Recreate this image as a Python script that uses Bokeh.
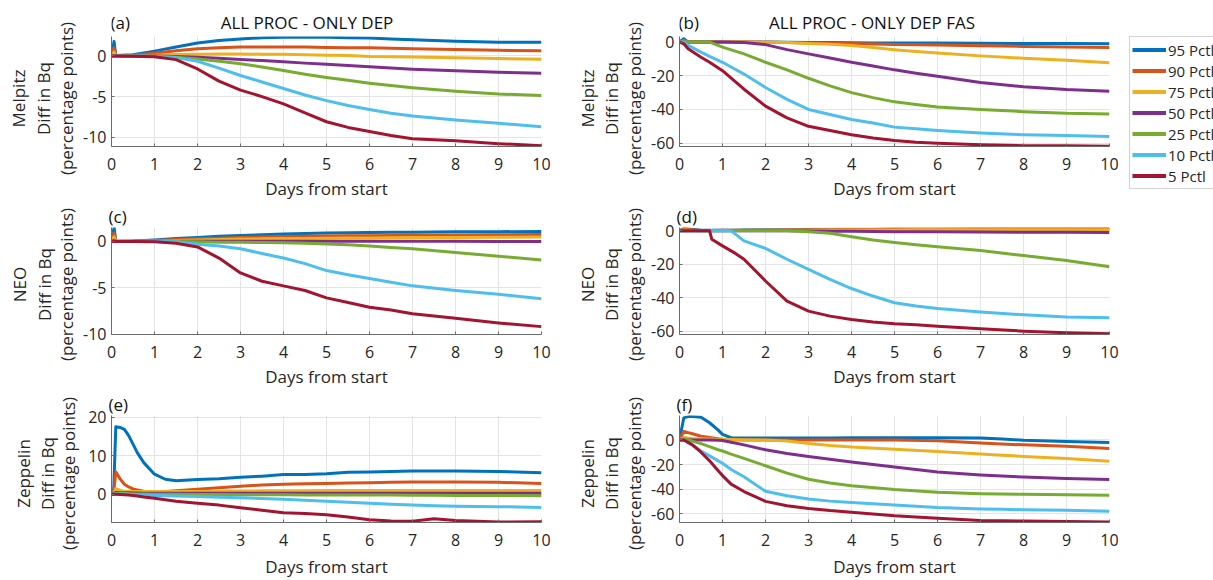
from math import pi
from bokeh.plotting import figure
from bokeh.layouts import row, column
from bokeh.models import Label, Legend, LegendItem, Range1d
from bokeh.embed import file_html
from bokeh.resources import INLINE

# ---------------- data ----------------
SERIES = ["95 Pctl", "90 Pctl", "75 Pctl", "50 Pctl", "25 Pctl", "10 Pctl", "5 Pctl"]
COLORS = ["#0072BD", "#D95319", "#EDB120", "#7E2F8E", "#77AC30", "#4DBEEE", "#A2142F"]
X_TICKS = [0, 1, 2, 3, 4, 5, 6, 7, 8, 9, 10]

# (a) Melpitz, ALL PROC - ONLY DEP
DAYS_A = [0, 0.06, 0.1, 0.5, 1, 1.5, 2, 2.5, 3, 3.5, 4, 4.5, 5, 5.5, 6, 6.5, 7, 8, 9, 10]
A_P95 = [0, 1.8, 0.05, 0.15, 0.6, 1.1, 1.6, 1.9, 2.1, 2.25, 2.3, 2.35, 2.3, 2.25, 2.2, 2.1, 2.0, 1.8, 1.7, 1.7]
A_P90 = [0, 1.0, 0.03, 0.1, 0.35, 0.65, 0.9, 1.0, 1.1, 1.1, 1.1, 1.1, 1.05, 1.0, 1.0, 0.95, 0.9, 0.8, 0.7, 0.65]
A_P75 = [0, 0.5, 0.01, 0.03, 0.1, 0.18, 0.22, 0.25, 0.25, 0.22, 0.2, 0.15, 0.1, 0.05, -0.05, -0.08, -0.12, -0.22, -0.32, -0.4]
A_P50 = [0, 0, 0, 0, 0, -0.05, -0.15, -0.28, -0.42, -0.57, -0.72, -0.88, -1.03, -1.18, -1.32, -1.47, -1.62, -1.82, -2.0, -2.12]
A_P25 = [0, 0, 0, 0, -0.05, -0.15, -0.38, -0.65, -0.95, -1.35, -1.8, -2.25, -2.65, -3.0, -3.35, -3.65, -3.92, -4.35, -4.68, -4.88]
A_P10 = [0, 0, 0, -0.01, -0.05, -0.2, -0.65, -1.5, -2.4, -3.2, -4.0, -4.8, -5.5, -6.1, -6.6, -7.05, -7.4, -7.9, -8.3, -8.72]
A_P5 = [0, 0, 0, -0.02, -0.1, -0.45, -1.6, -3.1, -4.2, -5.0, -5.9, -7.0, -8.1, -8.8, -9.3, -9.8, -10.2, -10.45, -10.8, -11.05]

# (b) Melpitz, ALL PROC - ONLY DEP FAS
DAYS_B = [0, 0.1, 0.2, 0.5, 0.7, 1, 1.5, 2, 2.5, 3, 3.5, 4, 4.5, 5, 5.5, 6, 7, 8, 9, 10]
B_P95 = [0, 2, 0, 0, 0, 0, 0, 0, -0.1, -0.2, -0.3, -0.4, -0.5, -0.5, -0.6, -0.6, -0.7, -0.8, -0.9, -1.0]
B_P90 = [0, 1, 0, 0, 0, 0, 0, -0.1, -0.3, -0.5, -0.7, -0.9, -1.1, -1.4, -1.6, -1.8, -2.2, -2.6, -2.9, -3.2]
B_P75 = [0, 0.5, 0, 0, 0, 0, 0, -0.1, -0.3, -0.8, -1.3, -2.0, -3.2, -4.5, -5.6, -6.5, -8.2, -9.6, -10.8, -12.3]
B_P50 = [0, 0, 0, 0, 0, 0, -0.2, -1.5, -4.5, -7.0, -9.5, -12.0, -14.2, -16.5, -18.5, -20.3, -24.0, -26.5, -28.2, -29.2]
B_P25 = [0, 0, 0, 0, 0, -3, -7, -12, -16.5, -21.5, -26, -30, -33, -35.5, -37, -38.5, -40, -41.3, -42.3, -42.7]
B_P10 = [0, 0, -2, -6, -8.5, -12, -19, -27, -34, -40, -43, -46, -48, -50.5, -51.5, -52.5, -54, -55, -55.5, -56]
B_P5 = [0, -1, -4, -9, -12, -17, -28, -38, -45, -50, -52.5, -55, -57, -58.5, -59.5, -60, -61, -61.5, -61.5, -61.8]

# (c) NEO, ALL PROC - ONLY DEP
DAYS_C = [0, 0.06, 0.1, 0.5, 1, 1.5, 2, 2.5, 3, 3.5, 4, 4.5, 5, 5.5, 6, 6.5, 7, 8, 9, 10]
C_P95 = [0, 1.5, 0.02, 0.05, 0.15, 0.3, 0.42, 0.55, 0.65, 0.72, 0.8, 0.85, 0.9, 0.93, 0.95, 0.98, 1.0, 1.03, 1.05, 1.07]
C_P90 = [0, 0.9, 0.02, 0.04, 0.1, 0.2, 0.28, 0.35, 0.42, 0.47, 0.52, 0.55, 0.58, 0.6, 0.62, 0.64, 0.66, 0.7, 0.72, 0.74]
C_P75 = [0, 0.5, 0.01, 0.02, 0.05, 0.1, 0.15, 0.2, 0.25, 0.28, 0.3, 0.32, 0.34, 0.36, 0.38, 0.4, 0.41, 0.43, 0.45, 0.47]
C_P50 = [0, 0.1, 0, 0, 0.01, 0.02, 0.02, 0.02, 0.02, 0.02, 0.02, 0.02, 0.02, 0.02, 0.02, 0.02, 0.02, 0.01, 0.0, 0.0]
C_P25 = [0, 0, 0, 0, 0, -0.02, -0.05, -0.08, -0.1, -0.12, -0.15, -0.2, -0.27, -0.37, -0.5, -0.65, -0.8, -1.2, -1.6, -2.0]
C_P10 = [0, 0, 0, 0, -0.02, -0.05, -0.3, -0.5, -0.8, -1.3, -1.8, -2.4, -3.15, -3.6, -4.0, -4.4, -4.8, -5.3, -5.7, -6.2]
C_P5 = [0, 0, 0, 0, -0.05, -0.2, -0.6, -1.8, -3.4, -4.3, -4.8, -5.3, -6.1, -6.6, -7.1, -7.4, -7.8, -8.3, -8.8, -9.2]

# (d) NEO, ALL PROC - ONLY DEP FAS
DAYS_D = [0, 0.1, 0.5, 0.7, 0.75, 1, 1.2, 1.3, 1.5, 2, 2.5, 3, 3.5, 4, 4.5, 5, 5.5, 6, 7, 8, 9, 10]
D_P95 = [0, 1.5, 0.3, 0.3, 0.3, 0.4, 0.4, 0.4, 0.5, 0.6, 0.7, 0.8, 0.9, 1.0, 1.0, 1.1, 1.1, 1.1, 1.2, 1.2, 1.2, 1.2]
D_P90 = [0, 1.0, 0.2, 0.2, 0.2, 0.3, 0.3, 0.3, 0.35, 0.4, 0.5, 0.6, 0.7, 0.8, 0.8, 0.9, 0.9, 0.9, 1.0, 1.0, 1.0, 1.0]
D_P75 = [0, 0.5, 0.1, 0.1, 0.1, 0.2, 0.2, 0.2, 0.25, 0.3, 0.35, 0.4, 0.45, 0.5, 0.5, 0.55, 0.6, 0.6, 0.65, 0.7, 0.7, 0.7]
D_P50 = [0, 0, 0, 0, 0, 0, 0, 0, 0, 0, 0, -0.1, -0.2, -0.3, -0.4, -0.5, -0.6, -0.6, -0.7, -0.8, -0.9, -1.0]
D_P25 = [0, 0, 0, 0, 0, 0, 0, 0, 0, 0, 0, -0.5, -1.5, -3.5, -5.5, -7.0, -8.3, -9.5, -11.8, -14.8, -17.8, -21.5]
D_P10 = [0, 0, 0, 0, 0, 0, 0, -2, -6, -10.5, -17, -23, -29, -34.5, -39, -43, -45, -46.5, -48.5, -50.2, -51.5, -52]
D_P5 = [0, 0, 0, 0, -5, -9, -12, -13.5, -17, -30, -42, -48, -51, -53, -54.5, -55.5, -56.2, -57, -58.5, -60, -61, -61.5]

# (e) Zeppelin, ALL PROC - ONLY DEP
DAYS_E = [0, 0.05, 0.1, 0.2, 0.3, 0.4, 0.5, 0.6, 0.75, 1, 1.25, 1.5, 2, 2.5, 3, 3.5, 4, 4.5, 5, 5.5, 6, 6.5, 7, 7.5, 8, 9, 10]
E_P95 = [0, 0.5, 17.5, 17.3, 16.8, 15.2, 13.0, 10.8, 8.2, 5.2, 3.9, 3.5, 3.8, 4.0, 4.4, 4.7, 5.1, 5.1, 5.3, 5.7, 5.8, 5.9, 6.0, 6.0, 6.0, 5.9, 5.6]
E_P90 = [0, 0.3, 5.8, 4.0, 2.6, 1.9, 1.4, 1.1, 0.8, 0.7, 0.75, 0.9, 1.3, 1.7, 2.1, 2.4, 2.6, 2.7, 2.8, 2.9, 3.0, 3.1, 3.2, 3.2, 3.2, 3.1, 2.8]
E_P75 = [0, 0.2, 1.5, 1.0, 0.8, 0.7, 0.7, 0.7, 0.7, 0.7, 0.7, 0.7, 0.75, 0.8, 0.85, 0.9, 0.9, 0.95, 1.0, 1.0, 1.0, 1.0, 1.0, 1.0, 1.0, 1.0, 1.0]
E_P50 = [0, 0.1, 0.5, 0.4, 0.4, 0.4, 0.35, 0.35, 0.3, 0.3, 0.3, 0.3, 0.3, 0.3, 0.3, 0.3, 0.3, 0.3, 0.3, 0.3, 0.3, 0.3, 0.3, 0.3, 0.3, 0.3, 0.3]
E_P25 = [0, 0, 0.2, 0.2, 0.2, 0.15, 0.1, 0.1, 0.05, 0, 0, 0, -0.05, -0.05, -0.1, -0.1, -0.1, -0.15, -0.15, -0.2, -0.2, -0.2, -0.25, -0.25, -0.3, -0.3, -0.35]
E_P10 = [0, 0, 0.1, 0.1, 0.05, 0.0, -0.05, -0.1, -0.2, -0.3, -0.4, -0.45, -0.6, -0.75, -0.9, -1.1, -1.3, -1.55, -1.8, -2.05, -2.3, -2.55, -2.8, -2.95, -3.1, -3.2, -3.4]
E_P5 = [0, 0, 0, -0.05, -0.1, -0.2, -0.3, -0.45, -0.7, -1.0, -1.4, -1.8, -2.3, -2.8, -3.5, -4.1, -4.8, -5.0, -5.3, -5.9, -6.6, -6.9, -7.0, -6.3, -6.8, -7.2, -7.1]

# (f) Zeppelin, ALL PROC - ONLY DEP FAS
DAYS_F = [0, 0.1, 0.2, 0.3, 0.5, 0.7, 0.9, 1, 1.2, 1.5, 2, 2.5, 3, 3.5, 4, 5, 6, 7, 7.5, 8, 9, 10]
F_P95 = [0, 18, 19, 19, 18.5, 14, 8, 4.5, 1.8, 1.5, 1.5, 1.5, 1.5, 1.6, 1.7, 1.8, 1.8, 1.5, 0.8, -0.3, -1.2, -2.0]
F_P90 = [0, 7, 6, 5, 3, 2, 1, 0.6, 0.2, 0, 0, 0, 0, 0, 0, 0, -0.6, -2.5, -3.3, -4.0, -5.2, -7.0]
F_P75 = [0, 2, 1.5, 1.2, 1, 0.8, 0.6, 0.5, 0.3, 0.2, 0, -0.8, -2.8, -4.5, -5.8, -7.6, -9.4, -11.4, -12.4, -13.4, -15.2, -17.3]
F_P50 = [0, 0, 0, 0, 0, 0, -0.2, -0.5, -1.8, -4, -8, -11, -13.5, -15.8, -18, -22, -26, -28.5, -29.4, -30.2, -31.3, -32.2]
F_P25 = [0, 1, 0, -1, -3, -5.5, -8, -9, -11.5, -15, -21, -27, -32, -35, -37.3, -40.4, -42.5, -43.7, -44, -44.3, -44.6, -45]
F_P10 = [0, 0, -2, -4, -9, -13, -17, -19, -24, -30, -41.8, -45.5, -48, -49.8, -51, -53, -55, -56.2, -56.5, -56.8, -57.3, -58]
F_P5 = [0, 0, -2, -4, -10, -17, -25, -29, -36, -42, -50, -53.5, -55.8, -57.5, -58.8, -61.7, -63.7, -65.5, -65.8, -66, -66.3, -66.8]

Y_TICKS_DEP_MELPITZ = [-10, -5, 0]
Y_TICKS_DEP_NEO = [-10, -5, 0]
Y_TICKS_DEP_ZEPPELIN = [0, 10, 20]
Y_TICKS_FAS = [-60, -40, -20, 0]

TITLE_LEFT = "ALL PROC - ONLY DEP"
TITLE_RIGHT = "ALL PROC - ONLY DEP FAS"
SITES = ["Melpitz", "NEO", "Zeppelin"]
XLABEL = "Days from start"
YLABEL_2 = "Diff in Bq"
YLABEL_3 = "(percentage points)"

FONT = "Open Sans"
TXT = "#262626"
AXC = "#6b6b6b"
FRAME_W = 431
TOTAL_H = 580

# geometry
YL1, YL2 = 80, 78                 # width of the y-label strips
PB_L = 30                          # panel left border (tick labels)
P1_W, P1_R = PB_L + FRAME_W + 29, 29
P2_W, P2_R = PB_L + FRAME_W + 16, 16
HEAD_H = 33
HEAD_Y = 22                        # centre of header texts from page top
# (top border, frame height, bottom border, xlabel standoff) per row
ROWS = [(3, 116, 50, 4), (23, 115, 50, 4), (23, 115, 52, 6)]
# y-label strip: centre y (from page top) of each row and x of the three lines
YL_ROW_Y = [98, 284, 473]
YL1_X = [[18, 43, 66], [19, 44, 66], [23, 47, 68]]
YL2_X = [[17, 41, 64], [17, 41, 64], [17, 41, 64]]


def text_label(p, text, x, y, align="center", size="17px", color=TXT, angle=0.0):
    p.add_layout(Label(x=x, y=y, x_units="screen", y_units="screen", text=text,
                       text_align=align, text_baseline="middle", angle=angle,
                       text_font=FONT, text_font_size=size, text_color=color))


def blank(width, height, bl=0, br=0):
    f = figure(width=width, height=height, output_backend="svg", toolbar_location=None,
               x_range=Range1d(0, 1), y_range=Range1d(0, 1),
               min_border_left=bl, min_border_right=br, min_border_top=0, min_border_bottom=0,
               x_axis_location=None, y_axis_location=None)
    f.outline_line_color = None
    f.grid.visible = False
    return f


def ylabel_strip(width, xs):
    s = blank(width, TOTAL_H)
    for (x1, x2, x3), yc, site in zip(xs, YL_ROW_Y, SITES):
        y = TOTAL_H - yc
        text_label(s, site, x1, y, angle=pi / 2)
        text_label(s, YLABEL_2, x2, y, angle=pi / 2)
        text_label(s, YLABEL_3, x3, y, angle=pi / 2)
    return s


def header(width, br, letter, title, title_dx):
    # its frame is aligned with the panels' frames of the same column
    h = blank(width, HEAD_H, PB_L, br)
    yc = HEAD_H - HEAD_Y
    text_label(h, letter, -1, yc, align="left", color="#111111")
    text_label(h, title, FRAME_W / 2 + title_dx, yc, color="#111111")
    return h


def panel(days, series, ylim, yticks, width, br, rowgeo, letter):
    bt, fh, bb, xls = rowgeo
    p = figure(width=width, height=bt + fh + bb, output_backend="svg", toolbar_location=None,
               x_range=Range1d(0, 10), y_range=Range1d(*ylim),
               min_border_left=PB_L, min_border_right=br,
               min_border_top=bt, min_border_bottom=bb)
    p.outline_line_color = None
    p.xaxis.ticker = X_TICKS
    p.yaxis.ticker = yticks
    # plain hyphen-minus as in the original figure
    p.yaxis.major_label_overrides = {t: str(t) for t in yticks}
    for ax in (p.xaxis, p.yaxis):
        ax.axis_line_color = AXC
        ax.axis_line_width = 1
        ax.major_tick_line_color = AXC
        ax.major_tick_in = 3
        ax.major_tick_out = 0
        ax.minor_tick_line_color = None
        ax.major_label_text_font = FONT
        ax.major_label_text_font_size = "16px"
        ax.major_label_text_color = TXT
        ax.axis_label_text_font = FONT
        ax.axis_label_text_font_size = "17px"
        ax.axis_label_text_font_style = "normal"
        ax.axis_label_text_color = TXT
    p.xaxis.major_label_standoff = 11
    p.yaxis.major_label_standoff = 5
    p.xaxis.axis_label = XLABEL
    p.xaxis.axis_label_standoff = xls
    p.grid.grid_line_color = "#e4e4e4"
    p.grid.grid_line_width = 1
    for vals, c in zip(series, COLORS):
        p.line(days, vals, line_color=c, line_width=3, line_join="round")
    if letter:
        p.title.text = letter
        p.title.align = "left"
        p.title.offset = -3
        p.title.standoff = 0
        p.title.text_font = FONT
        p.title.text_font_size = "17px"
        p.title.text_font_style = "normal"
        p.title.text_color = "#111111"
    return p


ha = header(P1_W, P1_R, "(a)", TITLE_LEFT, -20)
hb = header(P2_W, P2_R, "(b)", TITLE_RIGHT, -23)
pa = panel(DAYS_A, [A_P95, A_P90, A_P75, A_P50, A_P25, A_P10, A_P5], (-11.15, 2.4),
           Y_TICKS_DEP_MELPITZ, P1_W, P1_R, ROWS[0], None)
pb = panel(DAYS_B, [B_P95, B_P90, B_P75, B_P50, B_P25, B_P10, B_P5], (-62, 3.3),
           Y_TICKS_FAS, P2_W, P2_R, ROWS[0], None)
pc = panel(DAYS_C, [C_P95, C_P90, C_P75, C_P50, C_P25, C_P10, C_P5], (-10.05, 1.5),
           Y_TICKS_DEP_NEO, P1_W, P1_R, ROWS[1], "(c)")
pd_ = panel(DAYS_D, [D_P95, D_P90, D_P75, D_P50, D_P25, D_P10, D_P5], (-62, 2),
            Y_TICKS_FAS, P2_W, P2_R, ROWS[1], "(d)")
pe = panel(DAYS_E, [E_P95, E_P90, E_P75, E_P50, E_P25, E_P10, E_P5], (-7.3, 20.4),
           Y_TICKS_DEP_ZEPPELIN, P1_W, P1_R, ROWS[2], "(e)")
pf = panel(DAYS_F, [F_P95, F_P90, F_P75, F_P50, F_P25, F_P10, F_P5], (-67.2, 19.9),
           Y_TICKS_FAS, P2_W, P2_R, ROWS[2], "(f)")

ys1 = ylabel_strip(YL1, YL1_X)
ys2 = ylabel_strip(YL2, YL2_X)

# legend panel
LEG_H = 206
pl = blank(1213 - YL1 - P1_W - YL2 - P2_W, LEG_H)
items = []
for name, c in zip(SERIES, COLORS):
    r = pl.line([5, 6], [5, 6], line_color=c, line_width=4)
    items.append(LegendItem(label=name, renderers=[r]))
leg = Legend(items=items, location=(4, LEG_H - 189), orientation="vertical",
             glyph_width=34, glyph_height=21, label_height=21, label_standoff=2,
             padding=2, spacing=0, margin=0,
             label_text_font=FONT, label_text_font_size="15px", label_text_color=TXT,
             border_line_color="#a6a6a6", border_line_width=1,
             background_fill_color="white", background_fill_alpha=1.0)
pl.add_layout(leg)

layout = row(column(ys1), column(ha, pa, pc, pe), column(ys2), column(hb, pb, pd_, pf), column(pl))

open("out.html", "w").write(file_html(layout, INLINE))
